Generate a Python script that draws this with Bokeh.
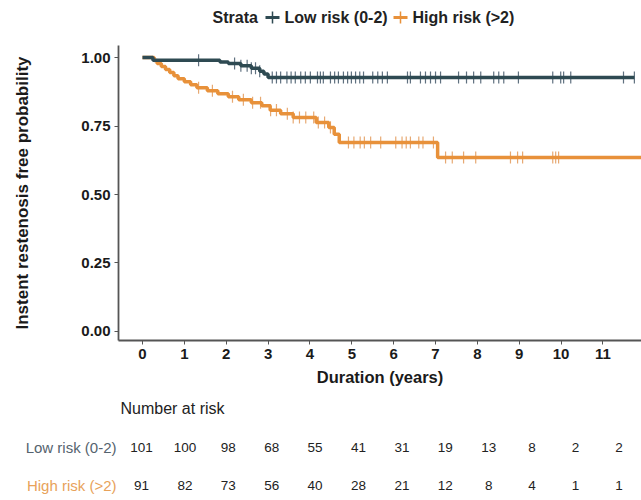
import numpy as np
from bokeh.plotting import figure
from bokeh.layouts import column
from bokeh.models import Range1d, FixedTicker, NumeralTickFormatter
from bokeh.core.properties import value
from bokeh.embed import file_html
from bokeh.resources import INLINE

# ---------------- data ----------------
strata = ["Low risk (0-2)", "High risk (>2)"]

low_times = [0, 0.25, 1.85, 2.05, 2.35, 2.6, 2.8, 2.9, 3.0, 11.75]
low_surv = [1.0, 0.99, 0.984, 0.978, 0.97, 0.961, 0.95, 0.94, 0.927, 0.927]

high_times = [0, 0.28, 0.35, 0.45, 0.55, 0.65, 0.75, 0.85, 1.0, 1.15, 1.3, 1.55,
              1.8, 2.05, 2.3, 2.6, 2.85, 3.05, 3.3, 3.6, 4.15, 4.45, 4.58, 4.7,
              7.05, 12.0]
high_surv = [1.0, 0.989, 0.978, 0.967, 0.956, 0.945, 0.934, 0.923, 0.912, 0.901,
             0.89, 0.879, 0.868, 0.857, 0.846, 0.835, 0.824, 0.808, 0.795, 0.781,
             0.763, 0.745, 0.72, 0.69, 0.635, 0.635]

low_censor = [1.34, 2.2, 2.35, 2.5, 2.6, 2.7, 2.8, 3.1, 3.2, 3.3, 3.45, 3.55, 3.65,
              3.78, 3.89, 4.01, 4.18, 4.25, 4.32, 4.49, 4.59, 4.68, 4.80, 4.90,
              4.99, 5.09, 5.19, 5.28, 5.50, 5.62, 5.73, 5.85, 6.33, 6.40, 6.64,
              6.76, 6.88, 7.00, 7.12, 7.55, 7.74, 7.91, 8.08, 8.39, 8.51, 8.63,
              8.98, 9.80, 9.99, 10.06, 10.23, 11.49, 11.75]
high_censor = [1.34, 1.67, 2.15, 2.41, 2.63, 2.82, 3.06, 3.2, 3.46, 3.6, 3.75,
               3.9, 4.09, 4.2, 4.35, 4.49, 4.92, 5.05, 5.2, 5.3, 5.45, 5.69, 6.05,
               6.2, 6.3, 6.40, 6.6, 6.7, 6.95, 7.24, 7.4, 7.67, 7.96, 8.79, 8.96,
               9.08, 9.8, 9.87, 9.94]

risk_years = list(range(12))
low_risk = [101, 100, 98, 68, 55, 41, 31, 19, 13, 8, 2, 2]
high_risk = [91, 82, 73, 56, 40, 28, 21, 12, 8, 4, 1, 1]

x_ticks = list(range(12))
y_ticks = [0.0, 0.25, 0.5, 0.75, 1.0]

# ---------------- style ----------------
LOW_C = "#2e4a52"
HIGH_C = "#e8913a"
LOW_CEN = "#4f6272"
HIGH_CEN = "#e4a064"
FONT = "Liberation Sans"
W = 641
FL = 118
TOP = 45


def bare(fig):
    fig.grid.visible = False
    fig.outline_line_color = None
    return fig


# ---------------- legend strip (pixel coordinates) ----------------
lg = bare(figure(width=W, height=TOP, x_range=Range1d(FL, W), y_range=Range1d(TOP, 0),
                 output_backend="svg", toolbar_location=None, min_border_left=FL,
                 min_border_right=0, min_border_top=0, min_border_bottom=0))
lg.axis.visible = False
LY = 17
lg.text(x=[212], y=[LY], text=["Strata"], text_font=value(FONT), text_font_style="bold",
        text_font_size="16px", text_baseline="middle", text_color="#222222")
for gx, tx, col, lab in [(265, 284, LOW_C, strata[0]), (393, 412, HIGH_C, strata[1])]:
    lg.segment(x0=[gx], y0=[LY], x1=[gx + 14], y1=[LY], line_color=col, line_width=3)
    lg.segment(x0=[gx + 7], y0=[LY - 6], x1=[gx + 7], y1=[LY + 6], line_color=col,
               line_width=1.5)
    lg.text(x=[tx], y=[LY], text=[lab], text_font=value(FONT), text_font_style="bold",
            text_font_size="16px", text_baseline="middle", text_color="#222222")

# ---------------- main plot ----------------
p = bare(figure(width=W, height=350, x_range=Range1d(-0.573, 11.92),
                y_range=Range1d(-0.033, 1.044), output_backend="svg",
                toolbar_location=None, min_border_left=FL, min_border_right=0,
                min_border_top=0, min_border_bottom=55))


def censor_y(times, surv, cens):
    t = np.asarray(times)
    s = np.asarray(surv)
    idx = np.searchsorted(t, np.asarray(cens), side="right") - 1
    return s[idx]


for times, surv, cens, col, ccol in [
        (high_times, high_surv, high_censor, HIGH_C, HIGH_CEN),
        (low_times, low_surv, low_censor, LOW_C, LOW_CEN)]:
    cy = censor_y(times, surv, cens)
    p.segment(x0=cens, y0=cy - 0.022, x1=cens, y1=cy + 0.022, line_color=ccol,
              line_width=1.2, line_alpha=0.9)
    p.step(times, surv, mode="after", line_color=col, line_width=3.5)

for ax in (p.xaxis[0], p.yaxis[0]):
    ax.axis_line_color = "#555555"
    ax.axis_line_width = 1.8
    ax.major_tick_line_color = "#555555"
    ax.major_tick_out = 4
    ax.major_tick_in = 0
    ax.minor_tick_line_color = None
    ax.major_label_text_font = FONT
    ax.major_label_text_font_style = "bold"
    ax.major_label_text_font_size = "15px"
    ax.major_label_text_color = "#1a1a1a"
    ax.axis_label_text_font = FONT
    ax.axis_label_text_font_style = "bold"
    ax.axis_label_text_font_size = "16.5px"
    ax.axis_label_text_color = "#1a1a1a"

p.xaxis.ticker = FixedTicker(ticks=x_ticks)
p.yaxis.ticker = FixedTicker(ticks=y_ticks)
p.yaxis.formatter = NumeralTickFormatter(format="0.00")
p.xaxis.axis_label = "Duration (years)"
p.yaxis.axis_label = "Instent restenosis free probability"
p.yaxis[0].axis_label_text_font_size = "17px"
p.xaxis.major_label_standoff = 4
p.yaxis.major_label_standoff = 4
p.xaxis.axis_label_standoff = 6
p.yaxis.axis_label_standoff = 46

# ---------------- risk table ----------------
TX = Range1d(-0.530, 11.521)   # table columns: year -> px 141 + 43.4*year


def table_row(height, row_y, label, label_color, counts, head=None):
    t = bare(figure(width=W, height=height, x_range=TX, y_range=Range1d(height, 0),
                    output_backend="svg", toolbar_location=None,
                    min_border_left=FL, min_border_right=0, min_border_top=0,
                    min_border_bottom=0))
    t.xaxis.visible = False
    ya = t.yaxis[0]
    ya.ticker = FixedTicker(ticks=[row_y])
    ya.major_label_overrides = {row_y: label}
    ya.axis_line_color = None
    ya.major_tick_line_color = None
    ya.major_tick_out = 0
    ya.minor_tick_line_color = None
    ya.major_label_standoff = 2
    ya.major_label_text_font = FONT
    ya.major_label_text_font_size = "15px"
    ya.major_label_text_color = label_color
    if head is not None:
        t.text(x=[-0.484], y=[head[1]], text=[head[0]], text_font=value(FONT),
               text_font_size="16px", text_baseline="middle", text_color="#222222")
    t.text(x=risk_years, y=[row_y] * len(risk_years), text=[str(v) for v in counts],
           text_font=value(FONT), text_font_size="13.5px", text_baseline="middle",
           text_align="center", text_color="#222222")
    return t


t1 = table_row(69, 52, strata[0], "#55636e", low_risk, head=("Number at risk", 13))
t2 = table_row(32, 21, strata[1], "#e8a25a", high_risk)

layout = column(lg, p, t1, t2, spacing=0)
open("out.html", "w").write(file_html(layout, INLINE))
